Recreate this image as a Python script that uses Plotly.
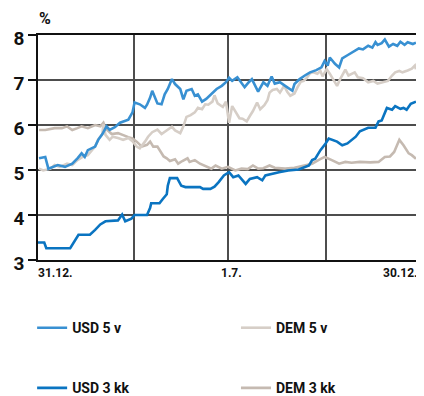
import plotly.graph_objects as go

# ---- data (x = days after 31.12., y = interest rate in %) ----
usd5_days = [1, 7, 10, 14, 19, 26, 33, 38, 42, 45, 48, 55, 58, 62, 66, 69, 74, 79, 83, 87,
             91, 93, 98, 103, 105, 108, 110, 115, 119, 122, 125, 129, 132, 137, 140, 143, 148,
             151, 154, 158, 162, 168, 172, 177, 181, 184, 187, 192, 196, 199, 203, 206, 212,
             217, 221, 225, 228, 233, 238, 245, 247, 252, 257, 262, 268, 273, 276, 279, 281,
             286, 290, 293, 298, 302, 305, 309, 313, 318, 322, 325, 327, 331, 334, 338, 342,
             346, 349, 353, 356, 361, 364]
usd5_vals = [5.26, 5.29, 5.03, 5.07, 5.11, 5.07, 5.14, 5.26, 5.37, 5.29, 5.44, 5.52, 5.67, 5.80,
             5.97, 5.89, 5.95, 6.05, 6.08, 6.12, 6.28, 6.50, 6.46, 6.38, 6.45, 6.61, 6.76, 6.48,
             6.46, 6.68, 6.80, 7.02, 6.91, 6.80, 6.57, 6.76, 6.80, 6.65, 6.68, 6.52, 6.58, 6.70,
             6.80, 6.87, 6.95, 7.05, 6.98, 7.06, 6.92, 6.84, 6.95, 7.02, 6.74, 6.95, 6.87, 7.08,
             6.92, 6.95, 6.87, 6.76, 6.91, 7.02, 7.10, 7.17, 7.22, 7.28, 7.42, 7.32, 7.50, 7.36,
             7.28, 7.48, 7.55, 7.60, 7.64, 7.70, 7.68, 7.76, 7.72, 7.84, 7.78, 7.82, 7.90, 7.74,
             7.80, 7.76, 7.85, 7.78, 7.84, 7.80, 7.83]

usd3_days = [0, 6, 8, 31, 39, 50, 55, 60, 65, 77, 81, 84, 90, 93, 105, 108, 109, 117, 120, 124,
             125, 127, 134, 138, 142, 156, 159, 166, 170, 174, 179, 184, 188, 193, 200, 204, 211,
             216, 219, 224, 232, 241, 251, 261, 264, 267, 272, 277, 280, 288, 293, 298, 302, 306,
             310, 318, 325, 328, 331, 336, 341, 344, 349, 352, 355, 359, 364]
usd3_vals = [3.39, 3.39, 3.26, 3.26, 3.56, 3.56, 3.67, 3.79, 3.86, 3.88, 4.01, 3.86, 3.92, 4.00,
             4.00, 4.16, 4.26, 4.26, 4.35, 4.46, 4.65, 4.82, 4.82, 4.65, 4.62, 4.62, 4.58, 4.58,
             4.63, 4.73, 4.88, 4.95, 4.84, 4.88, 4.69, 4.80, 4.84, 4.77, 4.88, 4.91, 4.95, 4.99,
             5.01, 5.10, 5.22, 5.25, 5.44, 5.59, 5.70, 5.63, 5.55, 5.59, 5.67, 5.74, 5.86, 5.94,
             5.94, 6.08, 6.10, 6.38, 6.34, 6.42, 6.36, 6.38, 6.34, 6.47, 6.52]

dem5_days = [1, 5, 12, 16, 21, 28, 33, 38, 43, 48, 52, 55, 58, 62, 63, 65, 69, 72, 77, 82, 87,
             91, 95, 98, 103, 106, 110, 115, 119, 124, 129, 132, 137, 140, 143, 147, 151, 154,
             158, 161, 164, 168, 170, 173, 178, 181, 184, 187, 190, 194, 197, 201, 204, 207, 211,
             214, 218, 221, 223, 226, 230, 233, 237, 240, 243, 247, 250, 253, 256, 259, 262, 265,
             269, 272, 274, 278, 281, 284, 288, 291, 296, 299, 305, 308, 313, 318, 323, 327, 332,
             337, 341, 344, 348, 351, 356, 360, 363, 364]
dem5_vals = [5.03, 4.99, 5.03, 5.11, 5.07, 5.14, 5.11, 5.22, 5.29, 5.33, 5.44, 5.52, 5.68, 5.80,
             6.02, 5.78, 5.67, 5.74, 5.71, 5.67, 5.71, 5.64, 5.52, 5.48, 5.63, 5.74, 5.84, 5.90,
             5.80, 5.88, 5.96, 5.88, 5.82, 5.97, 6.18, 6.22, 6.28, 6.38, 6.35, 6.46, 6.45, 6.52,
             6.66, 6.48, 6.40, 6.52, 6.05, 6.42, 6.30, 6.15, 6.14, 6.08, 6.20, 6.31, 6.50, 6.35,
             6.44, 6.55, 6.72, 6.78, 6.80, 6.72, 6.87, 6.74, 6.65, 6.70, 6.84, 6.96, 6.98, 7.05,
             7.15, 7.17, 7.14, 7.20, 7.08, 7.24, 7.14, 7.02, 6.87, 7.02, 7.23, 7.10, 7.17, 7.06,
             7.04, 6.95, 6.98, 6.92, 6.95, 6.98, 7.10, 7.17, 7.20, 7.17, 7.21, 7.25, 7.32, 7.24]

dem3_days = [1, 7, 16, 23, 28, 33, 38, 42, 48, 55, 60, 63, 65, 71, 77, 81, 87, 91, 95, 100, 105,
             108, 111, 115, 118, 121, 124, 127, 132, 135, 139, 144, 146, 151, 156, 160, 163, 167,
             171, 177, 183, 190, 196, 202, 207, 212, 217, 223, 228, 238, 247, 257, 264, 270, 276,
             283, 290, 296, 302, 310, 320, 328, 334, 339, 343, 348, 352, 357, 360, 364]
dem3_vals = [5.89, 5.89, 5.93, 5.93, 5.97, 5.89, 5.93, 5.97, 5.93, 6.00, 5.97, 6.05, 5.93, 5.80,
             5.82, 5.78, 5.73, 5.70, 5.63, 5.52, 5.56, 5.63, 5.52, 5.52, 5.40, 5.30, 5.26, 5.20,
             5.24, 5.14, 5.20, 5.26, 5.18, 5.22, 5.14, 5.10, 5.07, 5.03, 5.10, 5.03, 5.07, 4.99,
             5.03, 5.02, 5.10, 5.03, 5.04, 5.10, 5.05, 5.03, 5.05, 5.10, 5.14, 5.22, 5.29, 5.22,
             5.14, 5.18, 5.16, 5.18, 5.17, 5.18, 5.29, 5.30, 5.40, 5.67, 5.55, 5.37, 5.33, 5.25]

y_ticks = [3, 4, 5, 6, 7, 8]
grid_days = [92, 183, 277]
x_labels = [(0, "31.12."), (183, "1.7."), (365, "30.12.")]

FONT = "Roboto, Liberation Sans, sans-serif"
C_USD5 = "#3890d2"
C_USD3 = "#0a74c1"
C_DEM5 = "#d6cec7"
C_DEM3 = "#c5bab1"

fig = go.Figure()
fig.add_trace(go.Scatter(x=dem3_days, y=dem3_vals, mode="lines", name="DEM 3 kk",
                         line=dict(color=C_DEM3, width=2.6), legend="legend4"))
fig.add_trace(go.Scatter(x=dem5_days, y=dem5_vals, mode="lines", name="DEM 5 v",
                         line=dict(color=C_DEM5, width=2.6), legend="legend2"))
fig.add_trace(go.Scatter(x=usd3_days, y=usd3_vals, mode="lines", name="USD 3 kk",
                         line=dict(color=C_USD3, width=2.6), legend="legend3"))
fig.add_trace(go.Scatter(x=usd5_days, y=usd5_vals, mode="lines", name="USD 5 v",
                         line=dict(color=C_USD5, width=2.6), legend="legend"))

legend_common = dict(orientation="h", xanchor="left", yanchor="middle",
                     xref="container", yref="container",
                     font=dict(family=FONT, size=14, color="#111", weight="bold"),
                     bgcolor="rgba(0,0,0,0)")

ROW1, ROW2 = 0.175, 0.02
COL1, COL2 = 0.058, 0.548

# the page body adds an 8 px margin, so the figure is 8 px smaller than the window
fig.update_layout(
    width=416, height=388,
    margin=dict(l=30, r=7, t=27, b=136, autoexpand=False),
    paper_bgcolor="white", plot_bgcolor="white",
    font=dict(family=FONT, color="#111"),
    showlegend=True,
    legend=dict(x=COL1, y=ROW1, **legend_common),
    legend2=dict(x=COL2, y=ROW1, **legend_common),
    legend3=dict(x=COL1, y=ROW2, **legend_common),
    legend4=dict(x=COL2, y=ROW2, **legend_common),
    xaxis=dict(range=[0, 365], tickvals=grid_days, showticklabels=False, ticks="",
               showgrid=True, gridcolor="#4d4d4d", gridwidth=1.6,
               showline=True, linecolor="#111", linewidth=1.6, mirror=True, zeroline=False),
    yaxis=dict(range=[3, 8], tickvals=y_ticks, ticks="outside", ticklen=8,
               tickcolor="#111", tickwidth=1.6,
               tickfont=dict(family=FONT, size=19, color="#111", weight="bold"),
               ticklabelshift=3, ticklabelstandoff=0,
               showgrid=True, gridcolor="#4d4d4d", gridwidth=1.6,
               showline=True, linecolor="#111", linewidth=1.6, mirror=True, zeroline=False),
)

fig.add_annotation(text="%", xref="paper", yref="paper", x=0, y=1.075,
                   xanchor="left", yanchor="middle", xshift=-1, showarrow=False,
                   font=dict(family=FONT, size=16, color="#111", weight="bold"))
anchors = ["left", "center", "right"]
shifts = [-2, 3, 3]
for (d, lab), anc, sh in zip(x_labels, anchors, shifts):
    fig.add_annotation(text=lab, x=d, xref="x", yref="paper", y=-0.058,
                       xanchor=anc, yanchor="middle", xshift=sh, showarrow=False,
                       font=dict(family=FONT, size=12, color="#111", weight="bold"))

fig.write_html("out.html")
